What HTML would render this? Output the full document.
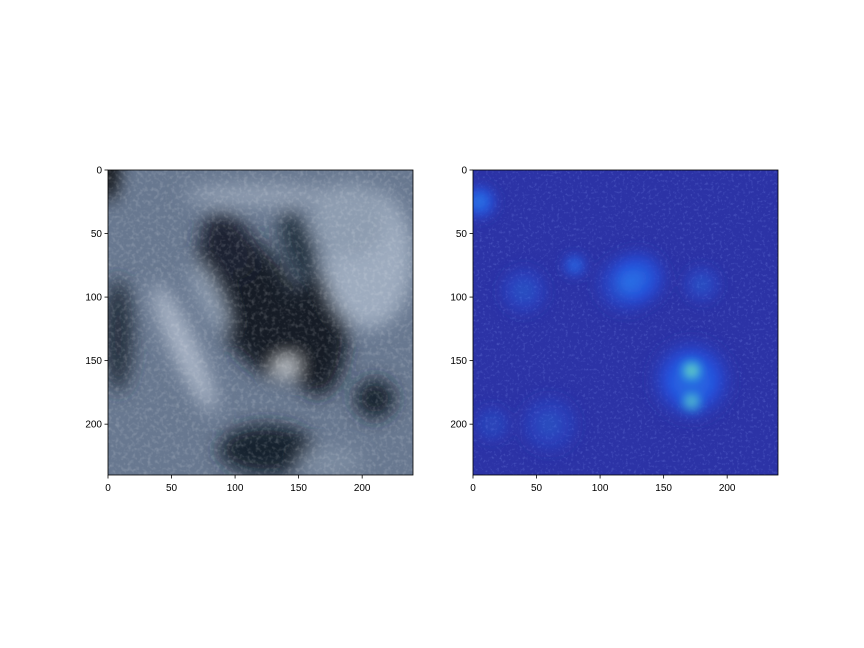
<!DOCTYPE html>
<html><head><meta charset="utf-8"><style>
html,body{margin:0;padding:0;background:#fff;}
svg{display:block;font-family:"Liberation Sans","DejaVu Sans",sans-serif;}
</style></head><body>
<svg id="fig" width="864" height="648" viewBox="0 0 864 648">
<defs>
<filter id="blur1" x="-50%" y="-50%" width="200%" height="200%"><feGaussianBlur stdDeviation="9"/></filter>
<filter id="blur2" x="-50%" y="-50%" width="200%" height="200%"><feGaussianBlur stdDeviation="5"/></filter>
<filter id="speck"><feTurbulence type="fractalNoise" baseFrequency="0.25" numOctaves="2" seed="3"/><feColorMatrix type="matrix" values="0 0 0 0 1  0 0 0 0 1  0 0 0 0 1  0 0 0 1.2 -0.55"/></filter>
<filter id="speck2"><feTurbulence type="fractalNoise" baseFrequency="0.35" numOctaves="2" seed="7"/><feColorMatrix type="matrix" values="0 0 0 0 0.3  0 0 0 0 0.4  0 0 0 0 1  0 0 0 1.4 -0.75"/></filter>
<clipPath id="c1"><rect x="108" y="170" width="305" height="305"/></clipPath>
<clipPath id="c2"><rect x="473" y="170" width="305" height="305"/></clipPath>
<radialGradient id="hot"><stop offset="0" stop-color="#e8f040"/><stop offset="0.25" stop-color="#30d0d0"/><stop offset="0.6" stop-color="#2060f0"/><stop offset="1" stop-color="#2c33a6" stop-opacity="0"/></radialGradient>
<radialGradient id="warm"><stop offset="0" stop-color="#2a8cf0"/><stop offset="0.5" stop-color="#2450e0"/><stop offset="1" stop-color="#2c33a6" stop-opacity="0"/></radialGradient>
</defs>
<g id="left"></g>
<g id="right"></g>
</svg>
<script>
const ticks = [0, 50, 100, 150, 200];
const tickLabels = ["0", "50", "100", "150", "200"];
// ultrasound features
const usX = [115, 165, 95, 125, 210, 8, 0, 60, 140, 205, 80, 190, 120, 175, 150];
const usY = [105, 130, 60, 220, 180, 130, 0, 140, 155, 70, 100, 40, 20, 230, 60];
const usRX = [34, 24, 20, 38, 16, 12, 8, 10, 9, 35, 8, 30, 60, 25, 12];
const usRY = [68, 48, 28, 20, 16, 45, 25, 55, 6, 55, 30, 30, 8, 12, 30];
const usRot = [-30, 0, -30, 0, 0, 0, 0, -25, -20, 0, -25, 0, 0, 0, -20];
const usCol = ["#121a26","#121a27","#1a2331","#18202d","#18202d","#28323f","#000000","#aab6c7","#e8eef5","#9eacbf","#8e9db1","#8e9db1","#94a2b5","#7c8ba0","#22303f"];
// heatmap hotspots
const hmX = [130, 172, 172, 172, 5, 80, 120, 40, 180, 60, 15];
const hmY = [85, 165, 158, 182, 25, 75, 90, 95, 90, 200, 200];
const hmR = [28, 38, 14, 12, 18, 12, 30, 25, 20, 30, 20];
const hmType = ["warm","warm","hot","hot","warm","warm","warm","warm","warm","warm","warm"];
const hmOp = [0.85, 0.95, 1, 0.9, 0.9, 0.8, 0.5, 0.4, 0.4, 0.35, 0.3];

const NS = "http://www.w3.org/2000/svg";
function mk(tag, attrs, parent){const e=document.createElementNS(NS,tag);for(const k in attrs)e.setAttribute(k,attrs[k]);parent.appendChild(e);return e;}
function panel(g, x0){
  const y0=170, W=305, s=W/240;
  const sx=v=>x0+v*s, sy=v=>y0+v*s;
  return {sx,sy,s,x0,y0,W};
}
function axes(g,p){
  const fr=mk('rect',{x:p.x0,y:p.y0,width:p.W,height:p.W,fill:'none',stroke:'#000','stroke-width':0.8},g);
  
  
  ticks.forEach((t,i)=>{
    mk('line',{x1:p.sx(t),x2:p.sx(t),y1:p.y0+p.W,y2:p.y0+p.W+3.5,stroke:'#000','stroke-width':0.8},g);
    const tx=mk('text',{x:p.sx(t),y:p.y0+p.W+16,'font-size':10,'text-anchor':'middle'},g);
    tx.textContent=tickLabels[i];
    
    
    mk('line',{x1:p.x0-3.5,x2:p.x0,y1:p.sy(t),y2:p.sy(t),stroke:'#000','stroke-width':0.8},g);
    const ty=mk('text',{x:p.x0-6,y:p.sy(t)+3.5,'font-size':10,'text-anchor':'end'},g);
    ty.textContent=tickLabels[i];
    
    
  });
}
const L=document.getElementById('left'); const pl=panel(L,108);
const gl=mk('g',{'clip-path':'url(#c1)'},L);
mk('rect',{x:108,y:170,width:305,height:305,fill:'#687890'},gl);
const bl=mk('g',{filter:'url(#blur1)'},gl);
for(let i=0;i<usX.length;i++){
  const e=mk('ellipse',{cx:pl.sx(usX[i]),cy:pl.sy(usY[i]),rx:usRX[i]*pl.s,ry:usRY[i]*pl.s,fill:usCol[i],transform:`rotate(${usRot[i]} ${pl.sx(usX[i])} ${pl.sy(usY[i])})`},bl);
  
  
}
mk('rect',{x:108,y:170,width:305,height:305,filter:'url(#speck)',opacity:0.35},gl);
axes(L,pl);
const R=document.getElementById('right'); const pr=panel(R,473);
const gr=mk('g',{'clip-path':'url(#c2)'},R);
mk('rect',{x:473,y:170,width:305,height:305,fill:'#2c33a6'},gr);
mk('rect',{x:473,y:170,width:305,height:305,filter:'url(#speck2)',opacity:0.5},gr);
const br=mk('g',{filter:'url(#blur2)'},gr);
for(let i=0;i<hmX.length;i++){
  const c=mk('circle',{cx:pr.sx(hmX[i]),cy:pr.sy(hmY[i]),r:hmR[i]*pr.s,fill:`url(#${hmType[i]})`,opacity:hmOp[i]},br);
  
  
}
axes(R,pr);
</script>
</body></html>
